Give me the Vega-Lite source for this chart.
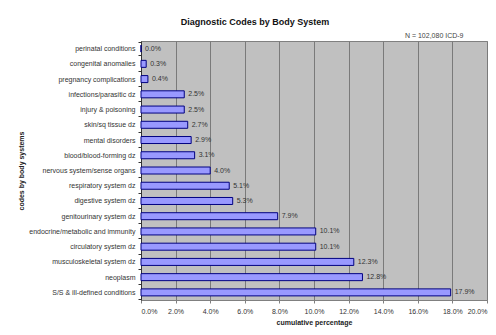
{
  "$schema": "https://vega.github.io/schema/vega-lite/v6.json",
  "width": 346,
  "height": 259,
  "autosize": {"type": "none"},
  "padding": {"left": 141, "top": 41, "right": 9, "bottom": 35},
  "background": "white",
  "config": {
    "font": "Liberation Sans",
    "view": {"fill": "#c0c0c0", "stroke": "#808080", "strokeWidth": 1},
    "axis": {"labelColor": "#333333", "titleColor": "#222222"}
  },
  "title": {
    "text": "Diagnostic Codes by Body System",
    "fontSize": 9,
    "fontWeight": "bold",
    "color": "#111111",
    "anchor": "middle",
    "frame": "group",
    "dx": -59,
    "offset": 4
  },
  "data": {
    "values": [
      {"system": "perinatal conditions", "pct": 0.0},
      {"system": "congenital anomalies", "pct": 0.003},
      {"system": "pregnancy complications", "pct": 0.004},
      {"system": "infections/parasitic dz", "pct": 0.025},
      {"system": "injury & poisoning", "pct": 0.025},
      {"system": "skin/sq tissue dz", "pct": 0.027},
      {"system": "mental disorders", "pct": 0.029},
      {"system": "blood/blood-forming dz", "pct": 0.031},
      {"system": "nervous system/sense organs", "pct": 0.04},
      {"system": "respiratory system dz", "pct": 0.051},
      {"system": "digestive system dz", "pct": 0.053},
      {"system": "genitourinary system dz", "pct": 0.079},
      {"system": "endocrine/metabolic and immunity", "pct": 0.101},
      {"system": "circulatory system dz", "pct": 0.101},
      {"system": "musculoskeletal system dz", "pct": 0.123},
      {"system": "neoplasm", "pct": 0.128},
      {"system": "S/S & ill-defined conditions", "pct": 0.179}
    ]
  },
  "encoding": {
    "y": {
      "field": "system",
      "type": "nominal",
      "sort": null,
      "axis": {
        "title": "codes by body systems",
        "titleFontSize": 7,
        "titleFontWeight": "bold",
        "titleColor": "#222222",
        "titlePadding": 4,
        "labelFontSize": 7,
        "labelColor": "#333333",
        "labelPadding": 3,
        "domainColor": "#333333",
        "tickColor": "#333333",
        "tickSize": 3,
        "tickBand": "extent",
        "grid": false
      }
    }
  },
  "layer": [
    {
      "mark": {"type": "bar", "size": 7, "fill": "#9999ff", "stroke": "#000080", "strokeWidth": 1},
      "encoding": {
        "x": {
          "field": "pct",
          "type": "quantitative",
          "scale": {"domain": [0, 0.2], "nice": false, "zero": true},
          "axis": {
            "orient": "bottom",
            "values": [0, 0.02, 0.04, 0.06, 0.08, 0.1, 0.12, 0.14, 0.16, 0.18, 0.2],
            "format": ".1%",
            "title": "cumulative percentage",
            "titleFontSize": 7,
            "titleFontWeight": "bold",
            "titleColor": "#222222",
            "titlePadding": 4,
            "labelFontSize": 7,
            "labelColor": "#333333",
            "labelPadding": 4,
            "grid": true,
            "gridColor": "#7a7a7a",
            "gridWidth": 1,
            "domainColor": "#808080",
            "tickColor": "#808080",
            "tickSize": 3
          }
        }
      }
    },
    {
      "mark": {"type": "text", "align": "left", "baseline": "middle", "dx": 4, "fontSize": 7, "color": "#333333"},
      "encoding": {
        "x": {
          "field": "pct",
          "type": "quantitative",
          "axis": {
            "orient": "top",
            "labels": false,
            "ticks": false,
            "domain": false,
            "grid": false,
            "title": "N = 102,080 ICD-9",
            "titleAnchor": "end",
            "titleAlign": "right",
            "titleX": 322,
            "titleFontSize": 7,
            "titleFontWeight": "normal",
            "titleColor": "#444444",
            "titlePadding": 3
          }
        },
        "text": {"field": "pct", "type": "quantitative", "format": ".1%"}
      }
    }
  ],
  "resolve": {"axis": {"x": "independent"}}
}
